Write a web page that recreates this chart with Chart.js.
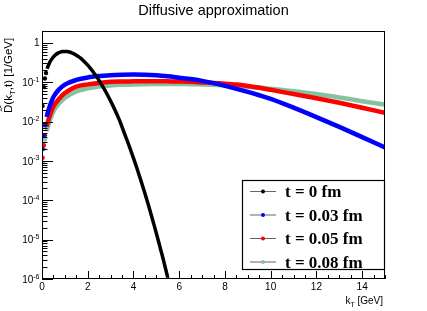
<!DOCTYPE html>
<html lang="en">
<head>
<meta charset="UTF-8">
<script src="https://cdn.jsdelivr.net/npm/chart.js"></script>
<title>Diffusive approximation</title>
<style>
  body{margin:0; background:#fff;}
  #wrap{width:427px; height:311px;}
</style>
</head>
<body>
<div id="wrap"><canvas id="myChart" width="427" height="311"></canvas></div>
<script>
// t = 0 fm (black dots)
const kBlack = [0.025,0.075,0.125,0.175,0.225,0.3,0.4,0.5,0.6,0.7,0.8,0.9,1.0,1.1,1.2,1.3,1.4,1.5,1.6,1.7,1.8,1.9,2.0,
  2.1,2.2,2.3,2.4,2.5,2.6,2.7,2.8,2.9,3.0,3.1,3.2,3.3,3.4,3.5,3.6,3.7,3.8,3.9,4.0,4.1,4.2,4.3,4.4,4.5,4.6,4.7,4.8,4.9,
  5.0,5.1,5.2,5.3,5.4,5.5];
const dBlack = [0.025,0.0748,0.124,0.172,0.219,0.287,0.369,0.441,0.501,0.548,0.581,0.600,0.607,0.601,0.584,0.558,0.525,
  0.487,0.445,0.401,0.356,0.313,0.271,0.232,0.196,0.163,0.135,0.110,0.0885,0.0705,0.0556,0.0433,0.0333,0.0254,0.0191,
  0.0142,0.0104,0.0073,0.0051,0.0036,0.0025,0.00173,0.00118,0.00080,0.000533,0.000353,0.000231,0.000150,0.000096,
  0.000061,0.000038,0.0000237,0.0000145,0.0000088,0.0000053,0.0000032,0.00000186,0.00000108];

// t = 0.03 / 0.05 / 0.08 fm, same k grid
const kCol = [0.03,0.08,0.13,0.2,0.3,0.5,0.75,1,1.5,2,2.5,3,3.5,4,4.5,5,5.5,6,6.5,7,7.5,8,8.5,9,9.5,10,11,12,13,14,15];
const dBlue = [0.002,0.0045,0.008,0.013,0.021,0.042,0.066,0.087,0.114,0.132,0.143,0.150,0.154,0.156,0.155,0.150,0.141,
  0.130,0.120,0.108,0.095,0.081,0.068,0.0566,0.0466,0.0378,0.0226,0.0130,0.00733,0.00403,0.00219];
const dRed = [0.0012,0.0025,0.0045,0.0075,0.012,0.024,0.038,0.053,0.077,0.088,0.096,0.102,0.104,0.105,0.106,0.106,0.105,
  0.104,0.102,0.099,0.096,0.092,0.087,0.080,0.072,0.064,0.050,0.039,0.030,0.0225,0.0166];
const dGreen = [0.0009,0.002,0.0035,0.0057,0.009,0.018,0.029,0.040,0.058,0.070,0.078,0.083,0.086,0.088,0.089,0.090,0.090,
  0.090,0.089,0.088,0.086,0.084,0.081,0.077,0.073,0.068,0.059,0.050,0.041,0.033,0.027];

const seriesLabels = ['t = 0 fm','t = 0.03 fm','t = 0.05 fm','t = 0.08 fm'];
const seriesColors = ['#000000','#0000ff','#ff0000','#85c3a0'];
const xTicks = [0,2,4,6,8,10,12,14];
const yDecades = [-6,-5,-4,-3,-2,-1,0];

function pts(ks, vs){ return ks.map((k,i)=>({x:k, y:vs[i]})); }

function makeSet(label, ks, vs, color, bw){
  return {
    label: label,
    data: pts(ks, vs),
    borderColor: color,
    backgroundColor: color,
    borderWidth: bw,
    pointBorderWidth: 0,
    pointRadius: ctx => (ctx.raw && ctx.raw.x < 0.19) ? 2.2 : 0,
    cubicInterpolationMode: 'monotone',
    segment: { borderColor: ctx => ctx.p0.parsed.x < 0.19 ? 'rgba(0,0,0,0)' : color },
    showLine: true
  };
}

// ROOT-like frame, ticks, labels, legend
const rootFrame = {
  id: 'rootFrame',
  afterDraw(chart){
    const c = chart.ctx, a = chart.chartArea;
    const xs = chart.scales.x, ys = chart.scales.y;
    c.save();
    c.strokeStyle = '#000';
    c.lineWidth = 1;
    c.strokeRect(Math.round(a.left)+0.5, Math.round(a.top)+0.5, Math.round(a.right-a.left)-1, Math.round(a.bottom-a.top)-1);

    // ticks
    c.beginPath();
    yDecades.forEach(d=>{
      for (let m=1; m<=9; m++){
        const v = m*Math.pow(10,d);
        if (v > ys.max) break;
        const y = Math.round(ys.getPixelForValue(v))+0.5;
        const len = m===1 ? 11 : 5.5;
        c.moveTo(a.left, y); c.lineTo(a.left+len, y);
      }
    });
    for (let v=0; v<=15; v+=0.5){
      const x = Math.round(xs.getPixelForValue(v))+0.5;
      const len = v%2===0 ? 8 : 4;
      c.moveTo(x, a.bottom); c.lineTo(x, a.bottom-len);
    }
    c.stroke();

    c.fillStyle = '#000';
    // x tick labels
    c.font = '10px "Liberation Sans"';
    c.textAlign = 'center'; c.textBaseline = 'alphabetic';
    xTicks.forEach(v=>c.fillText(String(v), xs.getPixelForValue(v), a.bottom+11));

    // y tick labels
    yDecades.forEach(d=>{
      const y = ys.getPixelForValue(Math.pow(10,d));
      c.textAlign = 'right';
      if (d===0){
        c.font = '10px "Liberation Sans"';
        c.fillText('1', 39.5, y+3.6);
      } else {
        c.font = '7px "Liberation Sans"';
        const sup = '-' + (-d);
        const sw = c.measureText(sup).width;
        c.fillText(sup, 39.5, y-0.5);
        c.font = '10px "Liberation Sans"';
        c.fillText('10', 39.5-sw, y+3.6);
      }
    });

    // title
    c.font = '14.5px "Liberation Sans"';
    c.textAlign = 'center';
    c.fillText('Diffusive approximation', 213.5, 15);

    // x title: k_T [GeV]
    c.textAlign = 'left';
    c.font = '10px "Liberation Sans"';
    const wk = c.measureText('k').width;
    const wr = c.measureText(' [GeV]').width;
    c.font = '7px "Liberation Sans"';
    const wt = c.measureText('T').width;
    let x0 = 383 - (wk+wt+wr);
    c.font = '10px "Liberation Sans"';
    c.fillText('k', x0, 304);
    c.font = '7px "Liberation Sans"';
    c.fillText('T', x0+wk, 306.5);
    c.font = '10px "Liberation Sans"';
    c.fillText(' [GeV]', x0+wk+wt, 304);

    // y title: D~(k_T,t) [1/GeV]
    c.save();
    c.translate(11.5, 113);
    c.rotate(-Math.PI/2);
    c.font = '11.5px "Liberation Sans"';
    const wD = c.measureText('D').width;
    c.fillText('D', 0, 0);
    // tilde over D
    c.lineWidth = 0.9;
    c.strokeStyle = '#000';
    c.beginPath();
    c.moveTo(1.5, -9.3);
    c.bezierCurveTo(3, -11.8, 4.5, -9.3, wD/2, -9.8);
    c.bezierCurveTo(wD-3.5, -10.6, wD-2.5, -11.6, wD-1, -10.8);
    c.stroke();
    c.font = '11.5px "Liberation Sans"';
    c.fillText('(k', wD, 0);
    const wk2 = c.measureText('(k').width;
    c.font = '8px "Liberation Sans"';
    c.fillText('T', wD+wk2, 3);
    const wt2 = c.measureText('T').width;
    c.font = '11.5px "Liberation Sans"';
    c.fillText(',t) [1/GeV]', wD+wk2+wt2, 0);
    c.restore();

    // legend box
    const lx = 242, ly = 180, lw = 142, lh = 89;
    c.fillStyle = '#fff';
    c.fillRect(lx, ly, lw, lh);
    c.strokeStyle = '#000';
    c.lineWidth = 1.2;
    c.strokeRect(lx+0.5, ly+0.5, lw, lh);
    const rows = [191, 214.5, 238, 261.5];
    seriesLabels.forEach((lab,i)=>{
      const ry = rows[i];
      c.strokeStyle = '#666';
      c.lineWidth = 1;
      c.beginPath(); c.moveTo(250, ry+0.5); c.lineTo(276, ry+0.5); c.stroke();
      c.fillStyle = seriesColors[i];
      c.beginPath(); c.arc(263, ry+0.5, 2, 0, Math.PI*2); c.fill();
      c.fillStyle = '#000';
      c.font = 'bold 17px "Liberation Serif"';
      c.textAlign = 'left';
      c.fillText(lab, 285, ry+6);
    });
    c.restore();
  }
};

const ctx = document.getElementById('myChart');
new Chart(ctx, {
  type: 'line',
  data: {
    datasets: [
      makeSet(seriesLabels[0], kBlack, dBlack, seriesColors[0], 3.5),
      makeSet(seriesLabels[1], kCol, dBlue, seriesColors[1], 4.5),
      makeSet(seriesLabels[2], kCol, dRed, seriesColors[2], 4.5),
      makeSet(seriesLabels[3], kCol, dGreen, seriesColors[3], 4.5)
    ]
  },
  options: {
    responsive: false,
    animation: false,
    devicePixelRatio: 1,
    events: [],
    layout: { padding: { left: 42, right: 42, top: 31, bottom: 32 } },
    plugins: { legend: { display: false }, title: { display: false }, tooltip: { enabled: false } },
    scales: {
      x: { type: 'linear', min: 0, max: 15, display: false },
      y: { type: 'logarithmic', min: 1e-6, max: 2, display: false }
    }
  },
  plugins: [rootFrame]
});
</script>
</body>
</html>
